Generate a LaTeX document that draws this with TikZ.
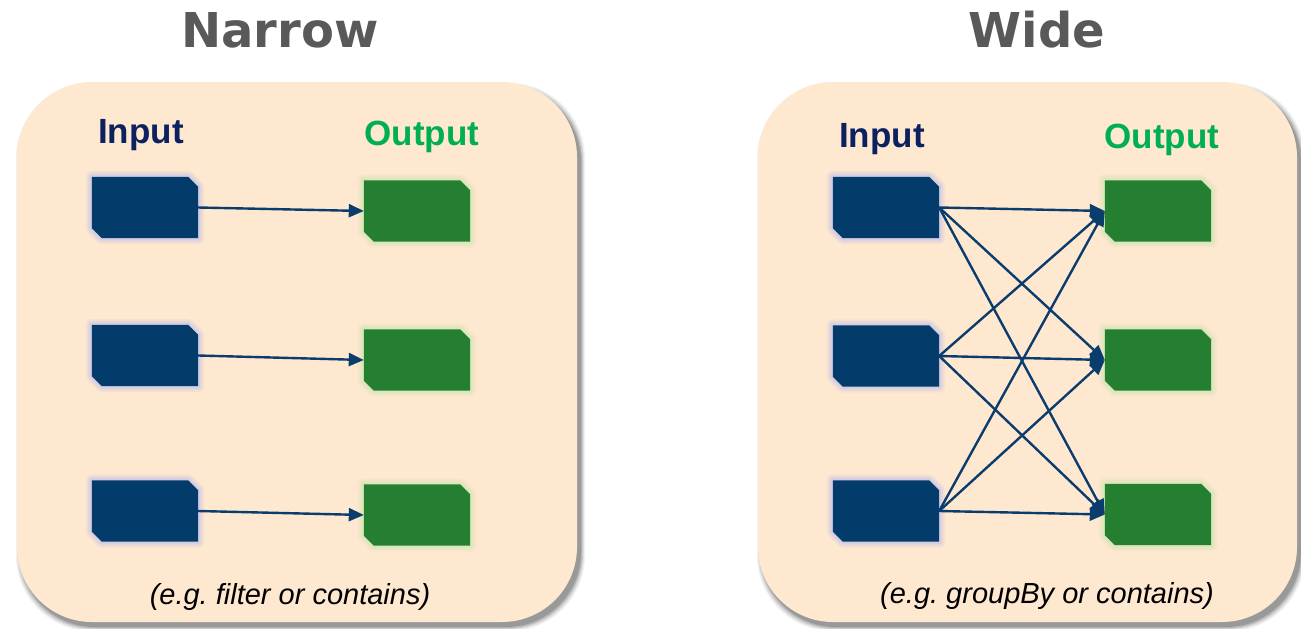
\documentclass[tikz,border=0pt]{standalone}
\usepackage{fontspec}
\setmainfont{Liberation Sans}
\newfontfamily\headfont{DejaVu Sans}
\usetikzlibrary{arrows.meta}
\frenchspacing

\definecolor{panelbg}{HTML}{FEE8CF}
\definecolor{navybox}{HTML}{033B6B}
\definecolor{greenbox}{HTML}{257F30}
\definecolor{inglow}{HTML}{CFCBE4}
\definecolor{outglow}{HTML}{D8E6B8}
\definecolor{linknavy}{HTML}{0A3D6E}
\definecolor{headgray}{HTML}{595959}
\definecolor{intext}{HTML}{0B2160}
\definecolor{outtext}{HTML}{00B050}

\tikzset{
  slot/.style={minimum width=106pt, minimum height=61pt, inner sep=0pt, draw=none},
  link/.style={draw=linknavy, line width=2.4pt, -{Triangle[length=15pt,width=13pt]}},
  heading/.style={font=\headfont\bfseries\fontsize{48}{50}\selectfont, text=headgray, anchor=base},
  collabel/.style={font=\bfseries\fontsize{35}{37}\selectfont, anchor=base},
  note/.style={font=\itshape\fontsize{29}{32}\selectfont, text=black, anchor=base},
  panel/.style={fill=panelbg, rounded corners=75pt},
}

% chamfered outline of a slot node (top-right and bottom-left corners cut)
\newcommand\chpath[1]{(#1.north west) -- ([xshift=-10pt]#1.north east) -- ([yshift=-10pt]#1.north east)
  -- (#1.south east) -- ([xshift=10pt]#1.south west) -- ([yshift=10pt]#1.south west) -- cycle}
% soft halo plus solid body
\newcommand\chbox[3]{%
  \foreach \w/\o in {12/0.25,8/0.4,4/0.7}{\draw[#3, line width=\w pt, opacity=\o, line join=round] \chpath{#1};}
  \fill[#2] \chpath{#1};}

\begin{document}
\begin{tikzpicture}[x=1pt,y=-1pt]
\useasboundingbox (0,0) rectangle (1301,629);

% panel shadows
\foreach \e/\o in {4/0.05,3/0.07,2/0.09,1/0.12,0/0.15}{
  \fill[black, opacity=\o, rounded corners=75pt] (20-\e,87-\e) rectangle (581+\e,627+\e);
  \fill[black, opacity=\o, rounded corners=75pt] (761-\e,87-\e) rectangle (1301+\e,627+\e);
}
% panels
\fill[panel] (17,82) rectangle (577,622);
\fill[panel] (758,82) rectangle (1297,622);

% headings
\node[heading] (tn) at (280,47) {Narrow};
\node[heading] (tw) at (1037,47) {Wide};

\node[collabel, text=intext] (lin) at (141,143) {Input};
\node[collabel, text=outtext] (lout) at (422,145) {Output};
\node[collabel, text=intext] (rin) at (882,147) {Input};
\node[collabel, text=outtext] (rout) at (1162,148) {Output};

% narrow panel slots
\node[slot] (li1) at (145,207.5) {};
\node[slot] (li2) at (145,355.5) {};
\node[slot] (li3) at (145,511) {};
\node[slot] (lo1) at (417,211) {};
\node[slot] (lo2) at (417,360) {};
\node[slot] (lo3) at (417,515) {};

% wide panel slots
\node[slot] (ri1) at (886,207.5) {};
\node[slot] (ri2) at (886,356) {};
\node[slot] (ri3) at (886,511) {};
\node[slot] (ro1) at (1158,211) {};
\node[slot] (ro2) at (1158,360) {};
\node[slot] (ro3) at (1158,514.5) {};

\foreach \n in {li1,li2,li3,ri1,ri2,ri3}{\chbox{\n}{navybox}{inglow}}
\foreach \n in {lo1,lo2,lo3,ro1,ro2,ro3}{\chbox{\n}{greenbox}{outglow}}

% narrow: one-to-one
\foreach \k in {1,2,3}{\draw[link] (li\k.east) -- (lo\k.west);}
% wide: all-to-all
\foreach \a in {1,2,3}{\foreach \b in {1,2,3}{\draw[link] (ri\a.east) -- (ro\b.west);}}

% notes
\node[note] (ln) at (290,604) {(e.g. filter or contains)};
\node[note] (rn) at (1047,603) {(e.g. groupBy or contains)};
\end{tikzpicture}
\end{document}
